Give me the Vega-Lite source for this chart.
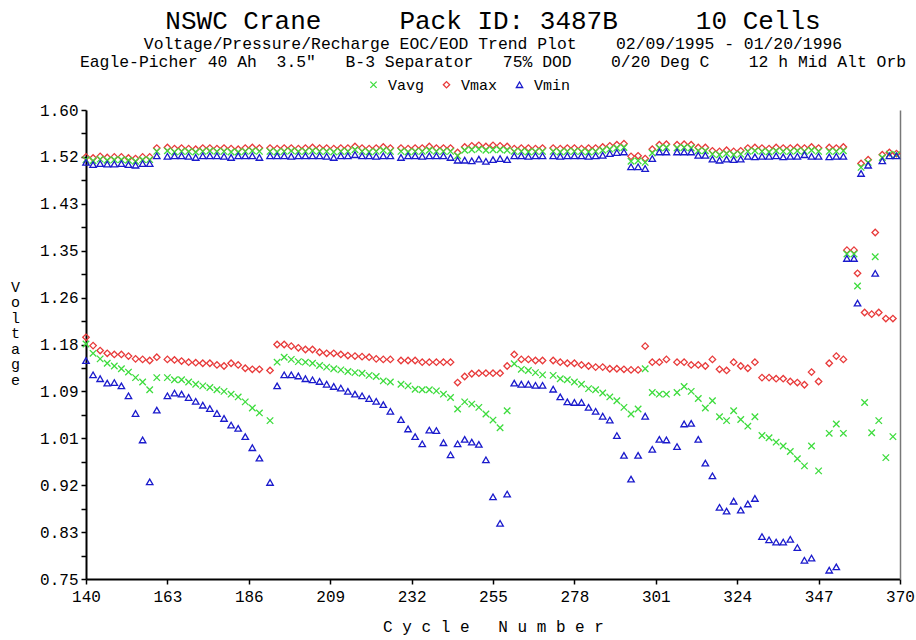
{
"$schema": "https://vega.github.io/schema/vega-lite/v6.json",
"width": 814, "height": 469,
"autosize": {"type": "none"},
"padding": {"left": 86, "top": 110, "right": 16, "bottom": 61},
"background": "white",
"title": {
 "text": "NSWC Crane\u00a0\u00a0\u00a0\u00a0\u00a0Pack ID: 3487B\u00a0\u00a0\u00a0\u00a0\u00a010 Cells",
 "subtitle": ["Voltage/Pressure/Recharge EOC/EOD Trend Plot\u00a0\u00a0\u00a0\u00a002/09/1995 - 01/20/1996", "Eagle-Picher 40 Ah\u00a0\u00a03.5\"\u00a0\u00a0\u00a0B-3 Separator\u00a0\u00a0\u00a075% DOD\u00a0\u00a0\u00a0\u00a00/20 Deg C\u00a0\u00a0\u00a0\u00a012 h Mid Alt Orb"],
 "font": "Liberation Mono", "fontSize": 26, "fontWeight": "normal", "color": "#000",
 "subtitleFont": "Liberation Mono", "subtitleFontSize": 16.4, "subtitleColor": "#000", "subtitleLineHeight": 18, "subtitlePadding": 2,
 "anchor": "middle", "offset": 7
},
"config": {"view": {"stroke": null}},
"data": {"values": [
{"c":140,"s":"Vmax","v":1.515},{"c":142,"s":"Vmax","v":1.513},{"c":144,"s":"Vmax","v":1.516},{"c":146,"s":"Vmax","v":1.514},{"c":148,"s":"Vmax","v":1.515},{"c":150,"s":"Vmax","v":1.515},{"c":152,"s":"Vmax","v":1.513},{"c":154,"s":"Vmax","v":1.512},{"c":156,"s":"Vmax","v":1.515},{"c":158,"s":"Vmax","v":1.515},
{"c":160,"s":"Vmax","v":1.531},{"c":163,"s":"Vmax","v":1.532},{"c":165,"s":"Vmax","v":1.530},{"c":167,"s":"Vmax","v":1.531},{"c":169,"s":"Vmax","v":1.530},{"c":171,"s":"Vmax","v":1.529},{"c":173,"s":"Vmax","v":1.531},{"c":175,"s":"Vmax","v":1.531},{"c":177,"s":"Vmax","v":1.530},{"c":179,"s":"Vmax","v":1.531},{"c":181,"s":"Vmax","v":1.530},{"c":183,"s":"Vmax","v":1.529},{"c":185,"s":"Vmax","v":1.531},{"c":187,"s":"Vmax","v":1.532},{"c":189,"s":"Vmax","v":1.531},{"c":192,"s":"Vmax","v":1.531},{"c":194,"s":"Vmax","v":1.530},{"c":196,"s":"Vmax","v":1.531},{"c":198,"s":"Vmax","v":1.531},{"c":200,"s":"Vmax","v":1.530},{"c":202,"s":"Vmax","v":1.531},{"c":204,"s":"Vmax","v":1.532},{"c":206,"s":"Vmax","v":1.531},{"c":208,"s":"Vmax","v":1.531},{"c":210,"s":"Vmax","v":1.530},{"c":212,"s":"Vmax","v":1.531},{"c":214,"s":"Vmax","v":1.531},{"c":216,"s":"Vmax","v":1.534},{"c":218,"s":"Vmax","v":1.531},{"c":220,"s":"Vmax","v":1.530},{"c":222,"s":"Vmax","v":1.531},{"c":224,"s":"Vmax","v":1.533},{"c":226,"s":"Vmax","v":1.531},{"c":229,"s":"Vmax","v":1.531},{"c":231,"s":"Vmax","v":1.530},{"c":233,"s":"Vmax","v":1.531},{"c":235,"s":"Vmax","v":1.531},{"c":237,"s":"Vmax","v":1.534},{"c":239,"s":"Vmax","v":1.531},{"c":241,"s":"Vmax","v":1.531},{"c":243,"s":"Vmax","v":1.531},
{"c":245,"s":"Vmax","v":1.523},
{"c":247,"s":"Vmax","v":1.533},{"c":249,"s":"Vmax","v":1.535},{"c":251,"s":"Vmax","v":1.536},{"c":253,"s":"Vmax","v":1.534},{"c":255,"s":"Vmax","v":1.536},{"c":257,"s":"Vmax","v":1.535},{"c":259,"s":"Vmax","v":1.534},
{"c":261,"s":"Vmax","v":1.530},{"c":263,"s":"Vmax","v":1.531},{"c":265,"s":"Vmax","v":1.531},{"c":267,"s":"Vmax","v":1.530},{"c":269,"s":"Vmax","v":1.531},{"c":272,"s":"Vmax","v":1.531},{"c":274,"s":"Vmax","v":1.530},{"c":276,"s":"Vmax","v":1.531},{"c":278,"s":"Vmax","v":1.531},{"c":280,"s":"Vmax","v":1.530},{"c":282,"s":"Vmax","v":1.531},{"c":284,"s":"Vmax","v":1.531},{"c":286,"s":"Vmax","v":1.533},
{"c":288,"s":"Vmax","v":1.535},{"c":290,"s":"Vmax","v":1.537},{"c":292,"s":"Vmax","v":1.539},
{"c":294,"s":"Vmax","v":1.516},{"c":296,"s":"Vmax","v":1.517},{"c":298,"s":"Vmax","v":1.512},{"c":300,"s":"Vmax","v":1.529},
{"c":302,"s":"Vmax","v":1.537},{"c":304,"s":"Vmax","v":1.538},{"c":307,"s":"Vmax","v":1.537},{"c":309,"s":"Vmax","v":1.538},{"c":311,"s":"Vmax","v":1.537},
{"c":313,"s":"Vmax","v":1.532},{"c":315,"s":"Vmax","v":1.532},
{"c":317,"s":"Vmax","v":1.526},{"c":319,"s":"Vmax","v":1.525},{"c":321,"s":"Vmax","v":1.527},{"c":323,"s":"Vmax","v":1.525},{"c":325,"s":"Vmax","v":1.526},
{"c":327,"s":"Vmax","v":1.531},{"c":329,"s":"Vmax","v":1.532},{"c":331,"s":"Vmax","v":1.531},{"c":333,"s":"Vmax","v":1.530},{"c":335,"s":"Vmax","v":1.532},{"c":337,"s":"Vmax","v":1.531},{"c":339,"s":"Vmax","v":1.531},{"c":341,"s":"Vmax","v":1.532},{"c":343,"s":"Vmax","v":1.531},{"c":345,"s":"Vmax","v":1.533},{"c":347,"s":"Vmax","v":1.531},{"c":350,"s":"Vmax","v":1.532},{"c":352,"s":"Vmax","v":1.531},{"c":354,"s":"Vmax","v":1.533},
{"c":359,"s":"Vmax","v":1.503},{"c":361,"s":"Vmax","v":1.510},{"c":365,"s":"Vmax","v":1.519},{"c":367,"s":"Vmax","v":1.523},{"c":369,"s":"Vmax","v":1.521},

{"c":140,"s":"Vavg","v":1.510},{"c":142,"s":"Vavg","v":1.508},{"c":144,"s":"Vavg","v":1.511},{"c":146,"s":"Vavg","v":1.509},{"c":148,"s":"Vavg","v":1.510},{"c":150,"s":"Vavg","v":1.510},{"c":152,"s":"Vavg","v":1.509},{"c":154,"s":"Vavg","v":1.507},{"c":156,"s":"Vavg","v":1.510},{"c":158,"s":"Vavg","v":1.510},
{"c":160,"s":"Vavg","v":1.525},{"c":163,"s":"Vavg","v":1.526},{"c":165,"s":"Vavg","v":1.524},{"c":167,"s":"Vavg","v":1.525},{"c":169,"s":"Vavg","v":1.525},{"c":171,"s":"Vavg","v":1.524},{"c":173,"s":"Vavg","v":1.525},{"c":175,"s":"Vavg","v":1.526},{"c":177,"s":"Vavg","v":1.525},{"c":179,"s":"Vavg","v":1.525},{"c":181,"s":"Vavg","v":1.524},{"c":183,"s":"Vavg","v":1.524},{"c":185,"s":"Vavg","v":1.525},{"c":187,"s":"Vavg","v":1.526},{"c":189,"s":"Vavg","v":1.525},{"c":192,"s":"Vavg","v":1.525},{"c":194,"s":"Vavg","v":1.524},{"c":196,"s":"Vavg","v":1.525},{"c":198,"s":"Vavg","v":1.526},{"c":200,"s":"Vavg","v":1.525},{"c":202,"s":"Vavg","v":1.525},{"c":204,"s":"Vavg","v":1.526},{"c":206,"s":"Vavg","v":1.525},{"c":208,"s":"Vavg","v":1.525},{"c":210,"s":"Vavg","v":1.524},{"c":212,"s":"Vavg","v":1.525},{"c":214,"s":"Vavg","v":1.525},{"c":216,"s":"Vavg","v":1.528},{"c":218,"s":"Vavg","v":1.525},{"c":220,"s":"Vavg","v":1.524},{"c":222,"s":"Vavg","v":1.525},{"c":224,"s":"Vavg","v":1.527},{"c":226,"s":"Vavg","v":1.525},{"c":229,"s":"Vavg","v":1.525},{"c":231,"s":"Vavg","v":1.524},{"c":233,"s":"Vavg","v":1.525},{"c":235,"s":"Vavg","v":1.525},{"c":237,"s":"Vavg","v":1.527},{"c":239,"s":"Vavg","v":1.525},{"c":241,"s":"Vavg","v":1.525},{"c":243,"s":"Vavg","v":1.525},
{"c":245,"s":"Vavg","v":1.517},
{"c":247,"s":"Vavg","v":1.527},{"c":249,"s":"Vavg","v":1.528},{"c":251,"s":"Vavg","v":1.529},{"c":253,"s":"Vavg","v":1.527},{"c":255,"s":"Vavg","v":1.528},{"c":257,"s":"Vavg","v":1.528},{"c":259,"s":"Vavg","v":1.527},
{"c":261,"s":"Vavg","v":1.525},{"c":263,"s":"Vavg","v":1.525},{"c":265,"s":"Vavg","v":1.524},{"c":267,"s":"Vavg","v":1.525},{"c":269,"s":"Vavg","v":1.525},{"c":272,"s":"Vavg","v":1.525},{"c":274,"s":"Vavg","v":1.524},{"c":276,"s":"Vavg","v":1.525},{"c":278,"s":"Vavg","v":1.525},{"c":280,"s":"Vavg","v":1.525},{"c":282,"s":"Vavg","v":1.524},{"c":284,"s":"Vavg","v":1.525},{"c":286,"s":"Vavg","v":1.527},
{"c":288,"s":"Vavg","v":1.529},{"c":290,"s":"Vavg","v":1.531},{"c":292,"s":"Vavg","v":1.532},
{"c":294,"s":"Vavg","v":1.507},{"c":296,"s":"Vavg","v":1.508},{"c":298,"s":"Vavg","v":1.505},{"c":300,"s":"Vavg","v":1.522},
{"c":302,"s":"Vavg","v":1.531},{"c":304,"s":"Vavg","v":1.532},{"c":307,"s":"Vavg","v":1.531},{"c":309,"s":"Vavg","v":1.532},{"c":311,"s":"Vavg","v":1.531},
{"c":313,"s":"Vavg","v":1.526},{"c":315,"s":"Vavg","v":1.526},
{"c":317,"s":"Vavg","v":1.520},{"c":319,"s":"Vavg","v":1.519},{"c":321,"s":"Vavg","v":1.521},{"c":323,"s":"Vavg","v":1.519},{"c":325,"s":"Vavg","v":1.520},
{"c":327,"s":"Vavg","v":1.525},{"c":329,"s":"Vavg","v":1.526},{"c":331,"s":"Vavg","v":1.525},{"c":333,"s":"Vavg","v":1.524},{"c":335,"s":"Vavg","v":1.526},{"c":337,"s":"Vavg","v":1.525},{"c":339,"s":"Vavg","v":1.525},{"c":341,"s":"Vavg","v":1.526},{"c":343,"s":"Vavg","v":1.525},{"c":345,"s":"Vavg","v":1.527},{"c":347,"s":"Vavg","v":1.525},{"c":350,"s":"Vavg","v":1.525},{"c":352,"s":"Vavg","v":1.525},{"c":354,"s":"Vavg","v":1.526},
{"c":359,"s":"Vavg","v":1.496},{"c":361,"s":"Vavg","v":1.505},{"c":365,"s":"Vavg","v":1.514},{"c":367,"s":"Vavg","v":1.520},{"c":369,"s":"Vavg","v":1.519},

{"c":140,"s":"Vmin","v":1.505},{"c":142,"s":"Vmin","v":1.501},{"c":144,"s":"Vmin","v":1.503},{"c":146,"s":"Vmin","v":1.502},{"c":148,"s":"Vmin","v":1.502},{"c":150,"s":"Vmin","v":1.503},{"c":152,"s":"Vmin","v":1.501},{"c":154,"s":"Vmin","v":1.500},{"c":156,"s":"Vmin","v":1.503},{"c":158,"s":"Vmin","v":1.503},
{"c":160,"s":"Vmin","v":1.517},{"c":163,"s":"Vmin","v":1.516},{"c":165,"s":"Vmin","v":1.517},{"c":167,"s":"Vmin","v":1.517},{"c":169,"s":"Vmin","v":1.516},{"c":171,"s":"Vmin","v":1.514},{"c":173,"s":"Vmin","v":1.517},{"c":175,"s":"Vmin","v":1.517},{"c":177,"s":"Vmin","v":1.517},{"c":179,"s":"Vmin","v":1.516},{"c":181,"s":"Vmin","v":1.514},{"c":183,"s":"Vmin","v":1.517},{"c":185,"s":"Vmin","v":1.517},{"c":187,"s":"Vmin","v":1.517},{"c":189,"s":"Vmin","v":1.514},{"c":192,"s":"Vmin","v":1.517},{"c":194,"s":"Vmin","v":1.517},{"c":196,"s":"Vmin","v":1.517},{"c":198,"s":"Vmin","v":1.516},{"c":200,"s":"Vmin","v":1.517},{"c":202,"s":"Vmin","v":1.517},{"c":204,"s":"Vmin","v":1.517},{"c":206,"s":"Vmin","v":1.517},{"c":208,"s":"Vmin","v":1.516},{"c":210,"s":"Vmin","v":1.514},{"c":212,"s":"Vmin","v":1.517},{"c":214,"s":"Vmin","v":1.517},{"c":216,"s":"Vmin","v":1.519},{"c":218,"s":"Vmin","v":1.517},{"c":220,"s":"Vmin","v":1.517},{"c":222,"s":"Vmin","v":1.516},{"c":224,"s":"Vmin","v":1.517},{"c":226,"s":"Vmin","v":1.517},{"c":229,"s":"Vmin","v":1.514},{"c":231,"s":"Vmin","v":1.517},{"c":233,"s":"Vmin","v":1.517},{"c":235,"s":"Vmin","v":1.516},{"c":237,"s":"Vmin","v":1.517},{"c":239,"s":"Vmin","v":1.517},{"c":241,"s":"Vmin","v":1.517},{"c":243,"s":"Vmin","v":1.514},
{"c":245,"s":"Vmin","v":1.509},
{"c":247,"s":"Vmin","v":1.509},{"c":249,"s":"Vmin","v":1.508},{"c":251,"s":"Vmin","v":1.511},{"c":253,"s":"Vmin","v":1.507},{"c":255,"s":"Vmin","v":1.510},{"c":257,"s":"Vmin","v":1.512},{"c":259,"s":"Vmin","v":1.510},
{"c":261,"s":"Vmin","v":1.517},{"c":263,"s":"Vmin","v":1.517},{"c":265,"s":"Vmin","v":1.516},{"c":267,"s":"Vmin","v":1.517},{"c":269,"s":"Vmin","v":1.517},{"c":272,"s":"Vmin","v":1.517},{"c":274,"s":"Vmin","v":1.516},{"c":276,"s":"Vmin","v":1.517},{"c":278,"s":"Vmin","v":1.517},{"c":280,"s":"Vmin","v":1.517},{"c":282,"s":"Vmin","v":1.516},{"c":284,"s":"Vmin","v":1.517},{"c":286,"s":"Vmin","v":1.518},
{"c":288,"s":"Vmin","v":1.521},{"c":290,"s":"Vmin","v":1.523},{"c":292,"s":"Vmin","v":1.524},
{"c":294,"s":"Vmin","v":1.497},{"c":296,"s":"Vmin","v":1.497},{"c":298,"s":"Vmin","v":1.494},{"c":300,"s":"Vmin","v":1.512},
{"c":302,"s":"Vmin","v":1.524},{"c":304,"s":"Vmin","v":1.524},{"c":307,"s":"Vmin","v":1.524},{"c":309,"s":"Vmin","v":1.524},{"c":311,"s":"Vmin","v":1.524},
{"c":313,"s":"Vmin","v":1.518},{"c":315,"s":"Vmin","v":1.518},
{"c":317,"s":"Vmin","v":1.511},{"c":319,"s":"Vmin","v":1.509},{"c":321,"s":"Vmin","v":1.511},{"c":323,"s":"Vmin","v":1.510},{"c":325,"s":"Vmin","v":1.511},
{"c":327,"s":"Vmin","v":1.516},{"c":329,"s":"Vmin","v":1.515},{"c":331,"s":"Vmin","v":1.516},{"c":333,"s":"Vmin","v":1.516},{"c":335,"s":"Vmin","v":1.517},{"c":337,"s":"Vmin","v":1.515},{"c":339,"s":"Vmin","v":1.516},{"c":341,"s":"Vmin","v":1.516},{"c":343,"s":"Vmin","v":1.519},{"c":345,"s":"Vmin","v":1.516},{"c":347,"s":"Vmin","v":1.516},{"c":350,"s":"Vmin","v":1.515},{"c":352,"s":"Vmin","v":1.516},{"c":354,"s":"Vmin","v":1.516},
{"c":359,"s":"Vmin","v":1.485},{"c":361,"s":"Vmin","v":1.500},{"c":365,"s":"Vmin","v":1.508},{"c":367,"s":"Vmin","v":1.517},{"c":369,"s":"Vmin","v":1.517},

{"c":140,"s":"Vmax","v":1.188},{"c":142,"s":"Vmax","v":1.173},{"c":144,"s":"Vmax","v":1.164},{"c":146,"s":"Vmax","v":1.159},{"c":148,"s":"Vmax","v":1.157},{"c":150,"s":"Vmax","v":1.157},{"c":152,"s":"Vmax","v":1.154},{"c":154,"s":"Vmax","v":1.149},{"c":156,"s":"Vmax","v":1.148},{"c":158,"s":"Vmax","v":1.146},{"c":160,"s":"Vmax","v":1.152},{"c":163,"s":"Vmax","v":1.148},{"c":165,"s":"Vmax","v":1.147},{"c":167,"s":"Vmax","v":1.145},{"c":169,"s":"Vmax","v":1.143},{"c":171,"s":"Vmax","v":1.142},{"c":173,"s":"Vmax","v":1.141},{"c":175,"s":"Vmax","v":1.141},{"c":177,"s":"Vmax","v":1.138},{"c":179,"s":"Vmax","v":1.136},{"c":181,"s":"Vmax","v":1.141},{"c":183,"s":"Vmax","v":1.138},{"c":185,"s":"Vmax","v":1.132},{"c":187,"s":"Vmax","v":1.130},{"c":189,"s":"Vmax","v":1.130},{"c":192,"s":"Vmax","v":1.128},{"c":194,"s":"Vmax","v":1.175},{"c":196,"s":"Vmax","v":1.175},{"c":198,"s":"Vmax","v":1.172},{"c":200,"s":"Vmax","v":1.169},{"c":202,"s":"Vmax","v":1.166},{"c":204,"s":"Vmax","v":1.166},{"c":206,"s":"Vmax","v":1.161},{"c":208,"s":"Vmax","v":1.159},{"c":210,"s":"Vmax","v":1.159},{"c":212,"s":"Vmax","v":1.157},{"c":214,"s":"Vmax","v":1.155},{"c":216,"s":"Vmax","v":1.154},{"c":218,"s":"Vmax","v":1.153},{"c":220,"s":"Vmax","v":1.152},{"c":222,"s":"Vmax","v":1.149},{"c":224,"s":"Vmax","v":1.148},{"c":226,"s":"Vmax","v":1.148},{"c":229,"s":"Vmax","v":1.146},{"c":231,"s":"Vmax","v":1.146},{"c":233,"s":"Vmax","v":1.146},{"c":235,"s":"Vmax","v":1.143},{"c":237,"s":"Vmax","v":1.143},{"c":239,"s":"Vmax","v":1.143},{"c":241,"s":"Vmax","v":1.143},{"c":243,"s":"Vmax","v":1.143},{"c":245,"s":"Vmax","v":1.106},{"c":247,"s":"Vmax","v":1.117},{"c":249,"s":"Vmax","v":1.122},{"c":251,"s":"Vmax","v":1.123},{"c":253,"s":"Vmax","v":1.123},{"c":255,"s":"Vmax","v":1.123},{"c":257,"s":"Vmax","v":1.123},{"c":259,"s":"Vmax","v":1.136},{"c":261,"s":"Vmax","v":1.157},{"c":263,"s":"Vmax","v":1.148},{"c":265,"s":"Vmax","v":1.148},{"c":267,"s":"Vmax","v":1.146},{"c":269,"s":"Vmax","v":1.146},{"c":272,"s":"Vmax","v":1.146},{"c":274,"s":"Vmax","v":1.143},{"c":276,"s":"Vmax","v":1.141},{"c":278,"s":"Vmax","v":1.141},{"c":280,"s":"Vmax","v":1.138},{"c":282,"s":"Vmax","v":1.136},{"c":284,"s":"Vmax","v":1.134},{"c":286,"s":"Vmax","v":1.134},{"c":288,"s":"Vmax","v":1.131},{"c":290,"s":"Vmax","v":1.131},{"c":292,"s":"Vmax","v":1.130},{"c":294,"s":"Vmax","v":1.129},{"c":296,"s":"Vmax","v":1.129},{"c":298,"s":"Vmax","v":1.172},{"c":300,"s":"Vmax","v":1.143},{"c":302,"s":"Vmax","v":1.143},{"c":304,"s":"Vmax","v":1.148},{"c":307,"s":"Vmax","v":1.143},{"c":309,"s":"Vmax","v":1.143},{"c":311,"s":"Vmax","v":1.138},{"c":313,"s":"Vmax","v":1.138},{"c":315,"s":"Vmax","v":1.136},{"c":317,"s":"Vmax","v":1.148},{"c":319,"s":"Vmax","v":1.130},{"c":321,"s":"Vmax","v":1.128},{"c":323,"s":"Vmax","v":1.143},{"c":325,"s":"Vmax","v":1.136},{"c":327,"s":"Vmax","v":1.132},{"c":329,"s":"Vmax","v":1.143},{"c":331,"s":"Vmax","v":1.115},{"c":333,"s":"Vmax","v":1.115},{"c":335,"s":"Vmax","v":1.113},{"c":337,"s":"Vmax","v":1.113},{"c":339,"s":"Vmax","v":1.108},{"c":341,"s":"Vmax","v":1.106},{"c":343,"s":"Vmax","v":1.102},{"c":345,"s":"Vmax","v":1.125},{"c":347,"s":"Vmax","v":1.108},{"c":350,"s":"Vmax","v":1.141},{"c":352,"s":"Vmax","v":1.154},{"c":354,"s":"Vmax","v":1.148},
{"c":355,"s":"Vmax","v":1.346},{"c":357,"s":"Vmax","v":1.346},{"c":358,"s":"Vmax","v":1.304},{"c":360,"s":"Vmax","v":1.233},{"c":362,"s":"Vmax","v":1.230},{"c":363,"s":"Vmax","v":1.378},{"c":364,"s":"Vmax","v":1.233},{"c":366,"s":"Vmax","v":1.222},{"c":368,"s":"Vmax","v":1.222},

{"c":140,"s":"Vavg","v":1.176},{"c":142,"s":"Vavg","v":1.159},{"c":144,"s":"Vavg","v":1.149},{"c":146,"s":"Vavg","v":1.141},{"c":148,"s":"Vavg","v":1.136},{"c":150,"s":"Vavg","v":1.131},{"c":152,"s":"Vavg","v":1.125},{"c":154,"s":"Vavg","v":1.115},{"c":156,"s":"Vavg","v":1.107},{"c":158,"s":"Vavg","v":1.093},{"c":160,"s":"Vavg","v":1.115},{"c":163,"s":"Vavg","v":1.115},{"c":165,"s":"Vavg","v":1.111},{"c":167,"s":"Vavg","v":1.111},{"c":169,"s":"Vavg","v":1.107},{"c":171,"s":"Vavg","v":1.103},{"c":173,"s":"Vavg","v":1.100},{"c":175,"s":"Vavg","v":1.097},{"c":177,"s":"Vavg","v":1.093},{"c":179,"s":"Vavg","v":1.090},{"c":181,"s":"Vavg","v":1.085},{"c":183,"s":"Vavg","v":1.080},{"c":185,"s":"Vavg","v":1.071},{"c":187,"s":"Vavg","v":1.060},{"c":189,"s":"Vavg","v":1.051},{"c":192,"s":"Vavg","v":1.037},{"c":194,"s":"Vavg","v":1.143},{"c":196,"s":"Vavg","v":1.152},{"c":198,"s":"Vavg","v":1.148},{"c":200,"s":"Vavg","v":1.144},{"c":202,"s":"Vavg","v":1.143},{"c":204,"s":"Vavg","v":1.141},{"c":206,"s":"Vavg","v":1.137},{"c":208,"s":"Vavg","v":1.134},{"c":210,"s":"Vavg","v":1.131},{"c":212,"s":"Vavg","v":1.129},{"c":214,"s":"Vavg","v":1.126},{"c":216,"s":"Vavg","v":1.124},{"c":218,"s":"Vavg","v":1.123},{"c":220,"s":"Vavg","v":1.119},{"c":222,"s":"Vavg","v":1.117},{"c":224,"s":"Vavg","v":1.109},{"c":226,"s":"Vavg","v":1.107},{"c":229,"s":"Vavg","v":1.103},{"c":231,"s":"Vavg","v":1.100},{"c":233,"s":"Vavg","v":1.094},{"c":235,"s":"Vavg","v":1.093},{"c":237,"s":"Vavg","v":1.093},{"c":239,"s":"Vavg","v":1.091},{"c":241,"s":"Vavg","v":1.085},{"c":243,"s":"Vavg","v":1.079},{"c":245,"s":"Vavg","v":1.058},{"c":247,"s":"Vavg","v":1.071},{"c":249,"s":"Vavg","v":1.067},{"c":251,"s":"Vavg","v":1.061},{"c":253,"s":"Vavg","v":1.049},{"c":255,"s":"Vavg","v":1.038},{"c":257,"s":"Vavg","v":1.024},{"c":259,"s":"Vavg","v":1.055},{"c":261,"s":"Vavg","v":1.140},{"c":263,"s":"Vavg","v":1.130},{"c":265,"s":"Vavg","v":1.128},{"c":267,"s":"Vavg","v":1.124},{"c":269,"s":"Vavg","v":1.120},{"c":272,"s":"Vavg","v":1.119},{"c":274,"s":"Vavg","v":1.113},{"c":276,"s":"Vavg","v":1.111},{"c":278,"s":"Vavg","v":1.107},{"c":280,"s":"Vavg","v":1.103},{"c":282,"s":"Vavg","v":1.095},{"c":284,"s":"Vavg","v":1.093},{"c":286,"s":"Vavg","v":1.087},{"c":288,"s":"Vavg","v":1.080},{"c":290,"s":"Vavg","v":1.073},{"c":292,"s":"Vavg","v":1.061},{"c":294,"s":"Vavg","v":1.049},{"c":296,"s":"Vavg","v":1.058},{"c":298,"s":"Vavg","v":1.131},{"c":300,"s":"Vavg","v":1.088},{"c":302,"s":"Vavg","v":1.085},{"c":304,"s":"Vavg","v":1.085},{"c":307,"s":"Vavg","v":1.088},{"c":309,"s":"Vavg","v":1.099},{"c":311,"s":"Vavg","v":1.090},{"c":313,"s":"Vavg","v":1.077},{"c":315,"s":"Vavg","v":1.060},{"c":317,"s":"Vavg","v":1.073},{"c":319,"s":"Vavg","v":1.044},{"c":321,"s":"Vavg","v":1.037},{"c":323,"s":"Vavg","v":1.055},{"c":325,"s":"Vavg","v":1.039},{"c":327,"s":"Vavg","v":1.027},{"c":329,"s":"Vavg","v":1.044},{"c":331,"s":"Vavg","v":1.010},{"c":333,"s":"Vavg","v":1.006},{"c":335,"s":"Vavg","v":0.998},{"c":337,"s":"Vavg","v":0.991},{"c":339,"s":"Vavg","v":0.981},{"c":341,"s":"Vavg","v":0.968},{"c":343,"s":"Vavg","v":0.955},{"c":345,"s":"Vavg","v":0.991},{"c":347,"s":"Vavg","v":0.946},{"c":350,"s":"Vavg","v":1.014},{"c":352,"s":"Vavg","v":1.031},{"c":354,"s":"Vavg","v":1.014},
{"c":355,"s":"Vavg","v":1.339},{"c":357,"s":"Vavg","v":1.339},{"c":358,"s":"Vavg","v":1.281},{"c":360,"s":"Vavg","v":1.070},{"c":362,"s":"Vavg","v":1.015},{"c":363,"s":"Vavg","v":1.334},{"c":364,"s":"Vavg","v":1.037},{"c":366,"s":"Vavg","v":0.970},{"c":368,"s":"Vavg","v":1.008},

{"c":140,"s":"Vmin","v":1.146},{"c":142,"s":"Vmin","v":1.120},{"c":144,"s":"Vmin","v":1.113},{"c":146,"s":"Vmin","v":1.105},{"c":148,"s":"Vmin","v":1.106},{"c":150,"s":"Vmin","v":1.100},{"c":152,"s":"Vmin","v":1.082},{"c":154,"s":"Vmin","v":1.050},{"c":156,"s":"Vmin","v":1.002},{"c":158,"s":"Vmin","v":0.926},{"c":160,"s":"Vmin","v":1.056},{"c":163,"s":"Vmin","v":1.082},{"c":165,"s":"Vmin","v":1.087},{"c":167,"s":"Vmin","v":1.085},{"c":169,"s":"Vmin","v":1.079},{"c":171,"s":"Vmin","v":1.072},{"c":173,"s":"Vmin","v":1.065},{"c":175,"s":"Vmin","v":1.059},{"c":177,"s":"Vmin","v":1.050},{"c":179,"s":"Vmin","v":1.041},{"c":181,"s":"Vmin","v":1.029},{"c":183,"s":"Vmin","v":1.023},{"c":185,"s":"Vmin","v":1.008},{"c":187,"s":"Vmin","v":0.988},{"c":189,"s":"Vmin","v":0.969},{"c":192,"s":"Vmin","v":0.925},{"c":194,"s":"Vmin","v":1.100},{"c":196,"s":"Vmin","v":1.120},{"c":198,"s":"Vmin","v":1.120},{"c":200,"s":"Vmin","v":1.118},{"c":202,"s":"Vmin","v":1.113},{"c":204,"s":"Vmin","v":1.111},{"c":206,"s":"Vmin","v":1.108},{"c":208,"s":"Vmin","v":1.103},{"c":210,"s":"Vmin","v":1.099},{"c":212,"s":"Vmin","v":1.096},{"c":214,"s":"Vmin","v":1.090},{"c":216,"s":"Vmin","v":1.085},{"c":218,"s":"Vmin","v":1.082},{"c":220,"s":"Vmin","v":1.077},{"c":222,"s":"Vmin","v":1.072},{"c":224,"s":"Vmin","v":1.066},{"c":226,"s":"Vmin","v":1.054},{"c":229,"s":"Vmin","v":1.039},{"c":231,"s":"Vmin","v":1.022},{"c":233,"s":"Vmin","v":1.008},{"c":235,"s":"Vmin","v":0.995},{"c":237,"s":"Vmin","v":1.020},{"c":239,"s":"Vmin","v":1.019},{"c":241,"s":"Vmin","v":0.997},{"c":243,"s":"Vmin","v":0.975},{"c":245,"s":"Vmin","v":0.995},{"c":247,"s":"Vmin","v":1.003},{"c":249,"s":"Vmin","v":0.998},{"c":251,"s":"Vmin","v":0.994},{"c":253,"s":"Vmin","v":0.966},{"c":255,"s":"Vmin","v":0.899},{"c":257,"s":"Vmin","v":0.851},{"c":259,"s":"Vmin","v":0.904},{"c":261,"s":"Vmin","v":1.105},{"c":263,"s":"Vmin","v":1.103},{"c":265,"s":"Vmin","v":1.103},{"c":267,"s":"Vmin","v":1.101},{"c":269,"s":"Vmin","v":1.101},{"c":272,"s":"Vmin","v":1.094},{"c":274,"s":"Vmin","v":1.080},{"c":276,"s":"Vmin","v":1.071},{"c":278,"s":"Vmin","v":1.070},{"c":280,"s":"Vmin","v":1.070},{"c":282,"s":"Vmin","v":1.061},{"c":284,"s":"Vmin","v":1.054},{"c":286,"s":"Vmin","v":1.045},{"c":288,"s":"Vmin","v":1.038},{"c":290,"s":"Vmin","v":1.010},{"c":292,"s":"Vmin","v":0.974},{"c":294,"s":"Vmin","v":0.931},{"c":296,"s":"Vmin","v":0.974},{"c":298,"s":"Vmin","v":1.045},{"c":300,"s":"Vmin","v":0.985},{"c":302,"s":"Vmin","v":1.003},{"c":304,"s":"Vmin","v":1.002},{"c":307,"s":"Vmin","v":0.990},{"c":309,"s":"Vmin","v":1.031},{"c":311,"s":"Vmin","v":1.032},{"c":313,"s":"Vmin","v":1.003},{"c":315,"s":"Vmin","v":0.960},{"c":317,"s":"Vmin","v":0.937},{"c":319,"s":"Vmin","v":0.880},{"c":321,"s":"Vmin","v":0.873},{"c":323,"s":"Vmin","v":0.891},{"c":325,"s":"Vmin","v":0.875},{"c":327,"s":"Vmin","v":0.886},{"c":329,"s":"Vmin","v":0.896},{"c":331,"s":"Vmin","v":0.827},{"c":333,"s":"Vmin","v":0.821},{"c":335,"s":"Vmin","v":0.817},{"c":337,"s":"Vmin","v":0.817},{"c":339,"s":"Vmin","v":0.822},{"c":341,"s":"Vmin","v":0.807},{"c":343,"s":"Vmin","v":0.784},{"c":345,"s":"Vmin","v":0.788},{"c":350,"s":"Vmin","v":0.766},{"c":352,"s":"Vmin","v":0.772},
{"c":355,"s":"Vmin","v":1.331},{"c":357,"s":"Vmin","v":1.331},{"c":358,"s":"Vmin","v":1.250},{"c":363,"s":"Vmin","v":1.304}
]},
"layer": [
 {
  "mark": {"type": "point", "filled": false, "strokeWidth": 1.3, "size": 42, "opacity": 1},
  "encoding": {
   "x": {"field": "c", "type": "quantitative",
     "scale": {"domain": [140, 370], "nice": false, "zero": false},
     "axis": {"values": [140,163,186,209,232,255,278,301,324,347,370], "title": "C y c l e\u00a0\u00a0\u00a0N u m b e r",
       "grid": false, "domainColor": "#000", "domainWidth": 2, "tickColor": "#000", "tickSize": 5, "tickWidth": 1.5,
       "labelFont": "Liberation Mono", "labelFontSize": 16, "labelColor": "#000", "labelPadding": 4, "labelFlush": false, "labelOverlap": false, "labelBound": false,
       "titleFont": "Liberation Mono", "titleFontSize": 16, "titleFontWeight": "normal", "titleColor": "#000", "titlePadding": 14}},
   "y": {"field": "v", "type": "quantitative",
     "scale": {"domain": [0.75, 1.6], "nice": false, "zero": false},
     "axis": {"values": [0.75,0.7925,0.835,0.8775,0.92,0.9625,1.005,1.0475,1.09,1.1325,1.175,1.2175,1.26,1.3025,1.345,1.3875,1.43,1.4725,1.515,1.5575,1.6],
       "labelExpr": "['0.75','','0.83','','0.92','','1.01','','1.09','','1.18','','1.26','','1.35','','1.43','','1.52','','1.60'][round((datum.value-0.75)/0.0425)]",
       "title": ["V","o","l","t","a","g","e"], "titleAngle": 0, "titleX": -71, "titleY": 176, "titleAlign": "center", "titleBaseline": "middle", "titleLineHeight": 15.5,
       "titleFont": "Liberation Mono", "titleFontSize": 15, "titleFontWeight": "normal", "titleColor": "#000",
       "grid": false, "domainColor": "#000", "domainWidth": 2, "tickColor": "#000", "tickSize": 5, "tickWidth": 1.5,
       "labelFont": "Liberation Mono", "labelFontSize": 16, "labelColor": "#000", "labelPadding": 3, "labelOverlap": false, "labelBound": false, "labelFlush": false}},
   "color": {"field": "s", "type": "nominal",
     "scale": {"domain": ["Vavg", "Vmax", "Vmin"], "range": ["#3ddc3d", "#e83a3a", "#1a1acc"]},
     "legend": {"orient": "none", "direction": "horizontal", "legendX": 280, "legendY": -33, "title": null,
       "labelFont": "Liberation Mono", "labelFontSize": 15, "labelColor": "#000", "labelOffset": 7, "columnPadding": 14,
       "symbolSize": 40, "symbolStrokeWidth": 1.3, "symbolFillColor": "transparent"}},
   "shape": {"field": "s", "type": "nominal",
     "scale": {"domain": ["Vavg", "Vmax", "Vmin"], "range": ["M-1,-1L1,1M-1,1L1,-1", "diamond", "triangle-up"]}}
  }
 },
 {
  "mark": {"type": "point", "opacity": 0},
  "encoding": {
   "x": {"field": "c", "type": "quantitative"},
   "y": {"field": "v", "type": "quantitative",
     "axis": {"orient": "right", "labels": false, "ticks": false, "title": null, "grid": false, "domainColor": "#777", "domainWidth": 1.5}}
  }
 }
],
"resolve": {"axis": {"y": "independent"}}
}
